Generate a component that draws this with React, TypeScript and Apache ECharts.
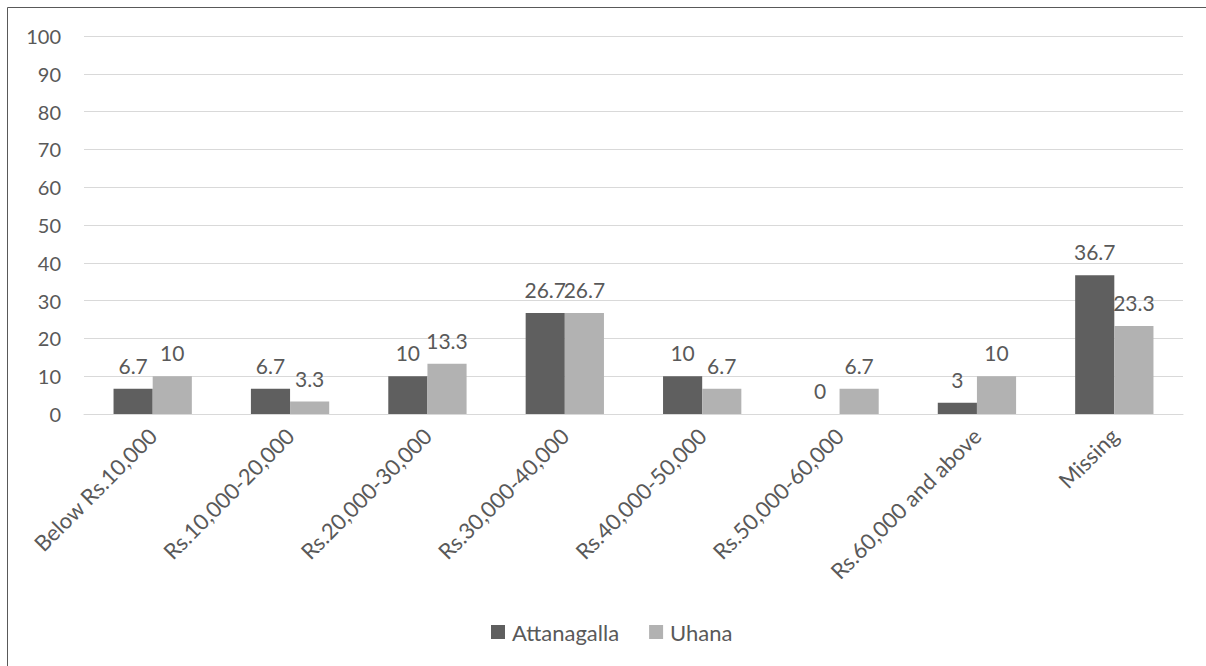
import React, { useEffect, useRef } from "react";
import * as echarts from "echarts";

const categories = [
  "Below Rs.10,000",
  "Rs.10,000-20,000",
  "Rs.20,000-30,000",
  "Rs.30,000-40,000",
  "Rs.40,000-50,000",
  "Rs.50,000-60,000",
  "Rs.60,000 and above",
  "Missing",
];
const attanagalla = [6.7, 6.7, 10, 26.7, 10, 0, 3, 36.7];
const uhana = [10, 3.3, 13.3, 26.7, 6.7, 6.7, 10, 23.3];

const FONT = "Lato";
const TEXT = "#595959";

export default function App() {
  const ref = useRef<HTMLDivElement>(null);

  useEffect(() => {
    document.body.style.margin = "0";
    if (!ref.current) return;
    const chart = echarts.init(ref.current, undefined, { renderer: "svg" });

    const labelStyle = {
      show: true,
      position: "top" as const,
      distance: 13,
      color: TEXT,
      fontFamily: FONT,
      fontSize: 21,
    };

    chart.setOption({
      animation: false,
      backgroundColor: "#ffffff",
      textStyle: { fontFamily: FONT, color: TEXT },
      graphic: [
        {
          type: "rect",
          shape: { x: 7.5, y: 7.5, width: 1300, height: 800 },
          style: { fill: "none", stroke: "#595959", lineWidth: 1 },
          silent: true,
        },
      ],
      grid: { left: 84, right: 23, top: 36, bottom: 252, containLabel: false },
      legend: {
        bottom: 18,
        left: 486,
        itemWidth: 14,
        itemHeight: 14,
        itemGap: 30,
        icon: "rect",
        textStyle: { color: TEXT, fontFamily: FONT, fontSize: 22, padding: [0, 0, 0, 2] },
        data: ["Attanagalla", "Uhana"],
      },
      xAxis: {
        type: "category",
        data: categories,
        axisLine: { lineStyle: { color: "#d9d9d9", width: 1 } },
        axisTick: { show: false },
        axisLabel: {
          rotate: 45,
          interval: 0,
          margin: 18,
          color: TEXT,
          fontFamily: FONT,
          fontSize: 22,
        },
      },
      yAxis: {
        type: "value",
        min: 0,
        max: 100,
        interval: 10,
        axisLine: { show: false },
        axisTick: { show: false },
        axisLabel: {
          margin: 23,
          color: TEXT,
          fontFamily: FONT,
          fontSize: 20,
        },
        splitLine: { lineStyle: { color: "#d9d9d9", width: 1 } },
      },
      series: [
        {
          name: "Attanagalla",
          type: "bar",
          data: attanagalla,
          barGap: "0%",
          barCategoryGap: "43%",
          itemStyle: { color: "#5f5f5f" },
          label: labelStyle,
        },
        {
          name: "Uhana",
          type: "bar",
          data: uhana,
          barGap: "0%",
          barCategoryGap: "43%",
          itemStyle: { color: "#b2b2b2" },
          label: labelStyle,
        },
      ],
    });

    return () => chart.dispose();
  }, []);

  return <div ref={ref} style={{ width: 1206, height: 666 }} />;
}
